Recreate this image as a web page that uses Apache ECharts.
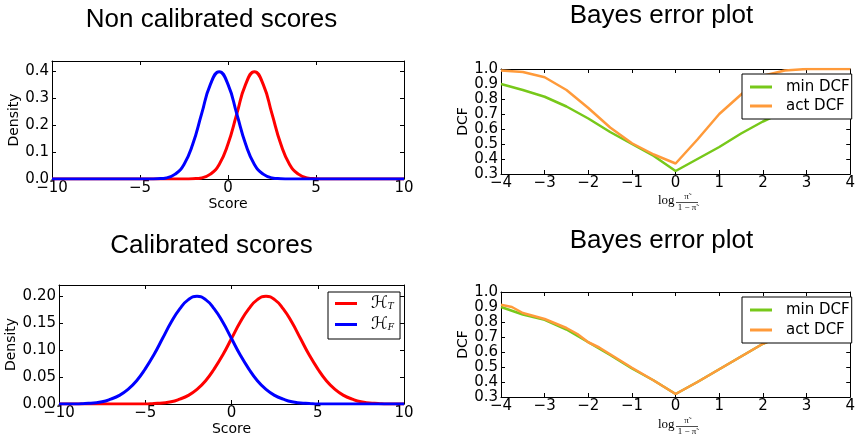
<!DOCTYPE html>
<html>
<head>
<meta charset="utf-8">
<script src="https://cdn.jsdelivr.net/npm/echarts@6/dist/echarts.min.js"></script>
<style>
  html, body { margin: 0; padding: 0; background: #fff; }
  #chart { width: 858px; height: 439px; }
</style>
</head>
<body>
<div id="chart"></div>
<script>
// Score grid shared by both density panels
const scoreX = [-10, -9.5, -9, -8.5, -8, -7.5, -7, -6.5, -6, -5.5, -5, -4.5, -4, -3.5, -3, -2.5, -2, -1.5, -1, -0.5,
  0, 0.5, 1, 1.5, 2, 2.5, 3, 3.5, 4, 4.5, 5, 5.5, 6, 6.5, 7, 7.5, 8, 8.5, 9, 9.5, 10];

// Non calibrated densities
const rawTarget = [0, 0, 0, 0, 0, 0, 0, 0, 0, 0, 0, 0, 0, 0, 0, 0,
  0.001, 0.004, 0.018, 0.054, 0.130, 0.242, 0.352, 0.399, 0.352, 0.242, 0.130, 0.054, 0.018, 0.004, 0.001,
  0, 0, 0, 0, 0, 0, 0, 0, 0, 0];
const rawNonTarget = [0, 0, 0, 0, 0, 0, 0, 0, 0, 0, 0, 0,
  0.001, 0.004, 0.018, 0.054, 0.130, 0.242, 0.352, 0.399, 0.352, 0.242, 0.130, 0.054, 0.018, 0.004, 0.001,
  0, 0, 0, 0, 0, 0, 0, 0, 0, 0, 0, 0, 0, 0];

// Calibrated densities
const calTarget = [0, 0, 0, 0, 0, 0, 0, 0, 0, 0, 0,
  0.001, 0.002, 0.004, 0.009, 0.016, 0.027, 0.043, 0.065, 0.091, 0.121, 0.151, 0.176, 0.193, 0.199,
  0.193, 0.176, 0.151, 0.121, 0.091, 0.065, 0.043, 0.027, 0.016, 0.009, 0.004, 0.002, 0.001,
  0, 0, 0];
const calNonTarget = [0, 0, 0,
  0.001, 0.002, 0.004, 0.009, 0.016, 0.027, 0.043, 0.065, 0.091, 0.121, 0.151, 0.176, 0.193, 0.199,
  0.193, 0.176, 0.151, 0.121, 0.091, 0.065, 0.043, 0.027, 0.016, 0.009, 0.004, 0.002, 0.001,
  0, 0, 0, 0, 0, 0, 0, 0, 0, 0, 0];

// Bayes error plot, non calibrated system
const bepX = [-4, -3.5, -3, -2.5, -2, -1.5, -1, -0.5, 0, 0.5, 1, 1.5, 2, 2.5, 3, 3.5, 4];
const rawMinDcf = [0.90, 0.86, 0.815, 0.75, 0.67, 0.58, 0.50, 0.42, 0.32, 0.40, 0.48, 0.57, 0.65, 0.72, 0.78, 0.84, 0.88];
const rawActDcf = [0.99, 0.98, 0.945, 0.86, 0.74, 0.61, 0.505, 0.43, 0.37, 0.53, 0.70, 0.83, 0.955, 0.99, 1.0, 1.0, 1.0];

// Bayes error plot, calibrated system
const calMinDcf = [0.90, 0.85, 0.815, 0.75, 0.665, 0.58, 0.49, 0.41, 0.32, 0.40, 0.485, 0.57, 0.655, 0.72, 0.78, 0.83, 0.865];
const calActX = [-4, -3.75, -3.5, -3.25, -3, -2.75, -2.5, -2.25, -2, -1.75, -1.5, -1, -0.5, 0, 0.5, 1, 1.5, 2, 2.5, 3, 3.5, 4];
const calActDcf = [0.915, 0.9, 0.86, 0.84, 0.82, 0.79, 0.76, 0.72, 0.665, 0.63, 0.585, 0.495, 0.41, 0.32, 0.40, 0.485,
  0.57, 0.655, 0.72, 0.785, 0.835, 0.88];

const titles = ['Non calibrated scores', 'Bayes error plot', 'Calibrated scores', 'Bayes error plot'];
const densityNames = ['HT', 'HF'];
const dcfNames = ['min DCF', 'act DCF'];

const RED = '#ff0000', BLUE = '#0000ff', GREEN = '#77c81a', ORANGE = '#ff9a3a';
const TICK_FONT = 'DejaVu Sans';

const pairs = (xs, ys) => xs.map((x, i) => [x, ys[i]]);
const minus = s => s.replace('-', '\u2212');

function labelFmt(step, digits) {
  return v => {
    const k = v / step;
    if (Math.abs(k - Math.round(k)) > 1e-6) return '';
    return minus(v.toFixed(digits));
  };
}

const grids = [
  { left: 52, top: 61, width: 352, height: 118 },
  { left: 501, top: 69, width: 355, height: 105 },
  { left: 59, top: 285, width: 345, height: 119 },
  { left: 501, top: 292, width: 355, height: 105 }
];

const tickStyle = { show: true, inside: true, length: 4, lineStyle: { color: '#000', width: 1 } };
const lineStyle = { show: true, onZero: false, lineStyle: { color: '#000', width: 1 } };

function xAxes(gi, min, max, step, name, nameGap) {
  return [
    {
      type: 'value', gridIndex: gi, min, max, interval: step, position: 'bottom',
      axisLine: lineStyle, axisTick: tickStyle, splitLine: { show: false },
      axisLabel: { fontFamily: TICK_FONT, fontSize: 15, color: '#000', margin: 2, formatter: labelFmt(step, 0) },
      name: name, nameLocation: 'middle', nameGap: nameGap,
      nameTextStyle: { fontFamily: TICK_FONT, fontSize: 14, color: '#000' }
    },
    {
      type: 'value', gridIndex: gi, min, max, interval: step, position: 'top',
      axisLine: lineStyle, axisTick: tickStyle, splitLine: { show: false }, axisLabel: { show: false }
    }
  ];
}

function yAxes(gi, min, max, step, digits, name, nameGap) {
  return [
    {
      type: 'value', gridIndex: gi, min, max, interval: step, position: 'left',
      axisLine: lineStyle, axisTick: tickStyle, splitLine: { show: false },
      axisLabel: { fontFamily: TICK_FONT, fontSize: 15, color: '#000', margin: 3, formatter: labelFmt(step, digits) },
      name: name, nameLocation: 'middle', nameGap: nameGap, nameRotate: 90,
      nameTextStyle: { fontFamily: TICK_FONT, fontSize: 14, color: '#000' }
    },
    {
      type: 'value', gridIndex: gi, min, max, interval: step, position: 'right',
      axisLine: lineStyle, axisTick: tickStyle, splitLine: { show: false }, axisLabel: { show: false }
    }
  ];
}

function line(name, color, width, xi, data, smooth) {
  return {
    type: 'line', name, xAxisIndex: xi, yAxisIndex: xi, data,
    showSymbol: false, symbol: 'none', smooth: smooth ? 0.5 : false,
    lineStyle: { color, width }, itemStyle: { color }, animation: false, z: 3
  };
}

// the x label of the Bayes error plots: log of pi/(1-pi)
function logOddsLabel(cx, cy) {
  const serif = 'Liberation Serif, DejaVu Serif, serif';
  return {
    type: 'group', silent: true,
    children: [
      { type: 'text', style: { text: 'log', x: cx - 20, y: cy, font: '13px ' + serif, fill: '#000', align: 'left', verticalAlign: 'middle' } },
      { type: 'text', style: { text: '\u03c0\u0303', x: cx + 8.5, y: cy - 4, font: '9px ' + serif, fill: '#000', align: 'center', verticalAlign: 'middle' } },
      { type: 'line', shape: { x1: cx - 2, y1: cy + 1.5, x2: cx + 20, y2: cy + 1.5 }, style: { stroke: '#000', lineWidth: 0.7 } },
      { type: 'text', style: { text: '1 \u2212 \u03c0\u0303', x: cx + 9, y: cy + 6.5, font: '9px ' + serif, fill: '#000', align: 'center', verticalAlign: 'middle' } }
    ]
  };
}

function legendBox(left, top, names, padding, gap, textPad, formatter, rich) {
  return {
    data: names, orient: 'vertical', left, top, padding, itemGap: gap,
    itemWidth: 22, itemHeight: 3, icon: 'rect',
    borderColor: '#000', borderWidth: 1, borderRadius: 0, backgroundColor: '#fff',
    selectedMode: false,
    textStyle: { fontFamily: TICK_FONT, fontSize: 15, color: '#000', lineHeight: 16, padding: [0, 0, 0, textPad], rich },
    formatter
  };
}

const hRich = {
  h: { fontFamily: 'DejaVu Serif, DejaVu Sans', fontStyle: 'italic', fontSize: 17, color: '#000', lineHeight: 16 },
  s: { fontFamily: 'DejaVu Serif, DejaVu Sans', fontStyle: 'italic', fontSize: 9, color: '#000', verticalAlign: 'bottom', lineHeight: 12 }
};

const chart = echarts.init(document.getElementById('chart'), null, { renderer: 'canvas' });
chart.setOption({
  backgroundColor: '#fff',
  animation: false,
  title: [
    { text: titles[0], left: 211.5, top: 7, textAlign: 'center' },
    { text: titles[1], left: 661.5, top: 3, textAlign: 'center' },
    { text: titles[2], left: 211.5, top: 233, textAlign: 'center' },
    { text: titles[3], left: 661.5, top: 228, textAlign: 'center' }
  ].map(t => Object.assign(t, { padding: 0, textStyle: { fontFamily: 'Liberation Sans', fontSize: 26, fontWeight: 'normal', color: '#000' } })),
  grid: grids.map(g => Object.assign({ containLabel: false, show: false }, g)),
  xAxis: [].concat(
    xAxes(0, -10, 10, 5, 'Score', 18),
    xAxes(1, -4, 4, 1, '', 20),
    xAxes(2, -10, 10, 5, 'Score', 18),
    xAxes(3, -4, 4, 1, '', 20)
  ),
  yAxis: [].concat(
    yAxes(0, 0, 0.4389, 0.1, 1, 'Density', 29),
    yAxes(1, 0.3, 1.0, 0.1, 1, 'DCF', 29),
    yAxes(2, 0, 0.22, 0.05, 2, 'Density', 37),
    yAxes(3, 0.3, 1.0, 0.1, 1, 'DCF', 29)
  ),
  legend: [
    legendBox(328, 292, densityNames, [3, 6, 6, 7], 4, 9,
      n => '{h|\u210b}{s|' + n.charAt(1) + '}', hRich),
    legendBox(742, 74, dcfNames, [5, 2, 5, 8], 3, 9),
    legendBox(742, 297, dcfNames, [5, 2, 5, 8], 4, 9)
  ],
  series: [
    line('HT', RED, 3, 0, pairs(scoreX, rawTarget), true),
    line('HF', BLUE, 3, 0, pairs(scoreX, rawNonTarget), true),
    line('min DCF', GREEN, 2.5, 2, pairs(bepX, rawMinDcf), false),
    line('act DCF', ORANGE, 2.5, 2, pairs(bepX, rawActDcf), false),
    line('HT', RED, 3, 4, pairs(scoreX, calTarget), true),
    line('HF', BLUE, 3, 4, pairs(scoreX, calNonTarget), true),
    line('min DCF', GREEN, 2.5, 6, pairs(bepX, calMinDcf), false),
    line('act DCF', ORANGE, 2.5, 6, pairs(calActX, calActDcf), false)
  ],
  graphic: [logOddsLabel(678, 201), logOddsLabel(678, 425)]
});
</script>
</body>
</html>
